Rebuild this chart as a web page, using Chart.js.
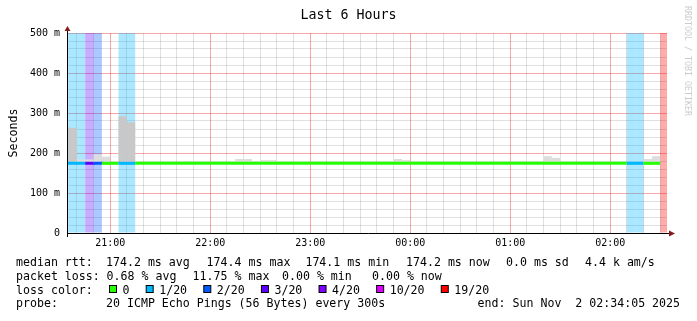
<!DOCTYPE html>
<html>
<head>
<meta charset="utf-8">
<title>Last 6 Hours</title>
<script src="https://cdn.jsdelivr.net/npm/chart.js@4/dist/chart.umd.min.js"></script>
<style>
  html, body { margin: 0; padding: 0; background: #fff; }
  #wrap { width: 697px; height: 321px; position: relative; }
</style>
</head>
<body>
<div id="wrap"><canvas id="smoke"></canvas></div>
<script>
const FONT = "'DejaVu Sans Mono', monospace";

/* --------------- Time window: minutes after 20:30, 5 minute steps --------------- */
const STEP = 5;
const windowStart = 4 + 5 / 60;    // 20:34:05
const windowEnd = 364 + 5 / 60;    // 02:34:05

/* --------------- Median rtt per step (ms), one row per hour --------------- */
const medianRtt = [
  174.2, 174.3, 174.2, 174.2, 174.3, 174.2, 174.2, 174.2, 174.2, 174.2, 174.2, 174.2,
  174.2, 174.2, 174.2, 174.2, 174.2, 174.2, 174.1, 174.2, 174.2, 174.2, 174.2, 174.2,
  174.2, 174.2, 174.2, 174.2, 174.2, 174.2, 174.2, 174.2, 174.2, 174.2, 174.2, 174.2,
  174.2, 174.2, 174.2, 174.2, 174.2, 174.2, 174.2, 174.2, 174.2, 174.2, 174.2, 174.2,
  174.2, 174.2, 174.2, 174.2, 174.2, 174.2, 174.2, 174.2, 174.2, 174.2, 174.4, 174.2,
  174.2, 174.2, 174.2, 174.2, 174.2, 174.2, 174.2, 174.2, 174.2, 174.2, 174.2, 174.2,
  null
];

/* --------------- Slowest ping per step (top of the smoke) --------------- */
const maxRtt = [
  263, 263, 184, 184, 197, 191, 176, 292, 277, 176, 176, 176,
  176, 176, 176, 180, 180, 176, 176, 176, 176, 185, 185, 176,
  182, 182, 176, 178, 178, 176, 176, 176, 176, 176, 176, 176,
  176, 176, 176, 176, 185, 182, 176, 176, 180, 176, 176, 176,
  176, 176, 176, 176, 176, 176, 179, 179, 176, 176, 192, 188,
  176, 176, 176, 176, 176, 176, 176, 176, 176, 176, 185, 192,
  null
];

/* --------------- Lost pings per step (of 20) --------------- */
const lossCount = [
  1, 1, 1, 3, 2, 0, 0, 1, 1, 0, 0, 0,
  0, 0, 0, 0, 0, 0, 0, 0, 0, 0, 0, 0,
  0, 0, 0, 0, 0, 0, 0, 0, 0, 0, 0, 0,
  0, 0, 0, 0, 0, 0, 0, 0, 0, 0, 0, 0,
  0, 0, 0, 0, 0, 0, 0, 0, 0, 0, 0, 0,
  0, 0, 0, 0, 0, 0, 0, 0, 1, 1, 0, 0,
  19
];

/* --------------- Loss colour legend --------------- */
const lossLevels = [0, 1, 2, 3, 4, 10, 19];
const lossLabels = ['0', '1/20', '2/20', '3/20', '4/20', '10/20', '19/20'];
const lossColors = ['#26ff00', '#00b8ff', '#0059ff', '#5e00ff', '#7e00ff', '#dd00ff', '#ff0000'];

/* --------------- Axis ticks --------------- */
const hourTicks = [30, 90, 150, 210, 270, 330];
const hourLabels = ['21:00', '22:00', '23:00', '00:00', '01:00', '02:00'];
const yLabelValues = [0, 100, 200, 300, 400, 500];
const yLabels = ['0', '100 m', '200 m', '300 m', '400 m', '500 m'];

const lossColor = (n, alpha) => {
  let c = lossColors[0];
  lossLevels.forEach((lv, i) => { if (n >= lv) c = lossColors[i]; });
  if (alpha === undefined) return c;
  const r = parseInt(c.slice(1, 3), 16), g = parseInt(c.slice(3, 5), 16), b = parseInt(c.slice(5, 7), 16);
  return `rgba(${r},${g},${b},${alpha})`;
};

const stepX = k => k * STEP + STEP / 2;

// loss background: full height bars where pings went missing
const lossData = lossCount.map((n, k) => ({ x: stepX(k), y: n > 0 ? [0, 500] : null }));
// smoke: median up to the slowest ping
const smokeData = maxRtt.map((m, k) => ({ x: stepX(k), y: m === null ? null : [medianRtt[k], m] }));
// median line, one point at the start of each step (+ closing point)
const lineData = [];
medianRtt.forEach((m, k) => {
  lineData.push({ x: k * STEP, y: m, loss: lossCount[k] });
  if (m !== null && (k === medianRtt.length - 1 || medianRtt[k + 1] === null)) {
    lineData.push({ x: (k + 1) * STEP, y: m, loss: lossCount[k] });
  }
});

const GRID = 'rgba(0,0,0,0.12)';
const MGRID = 'rgba(230,0,0,0.34)';
const tickVal = c => (c && c.tick) ? c.tick.value : NaN;

const footerRows = [
  { y: 266, parts: [['median rtt:', 16], ['174.2 ms avg', 106], ['174.4 ms max', 206.6], ['174.1 ms min', 305.4], ['174.2 ms now', 406], ['0.0 ms sd', 506], ['4.4 k am/s', 585]] },
  { y: 280, parts: [['packet loss:', 16], ['0.68 % avg', 106.6], ['11.75 % max', 192.6], ['0.00 % min', 282], ['0.00 % now', 372]] },
  { y: 293.5, parts: [['loss color:', 16]] },
  { y: 307, parts: [['probe:', 16], ['20 ICMP Echo Pings (56 Bytes) every 300s', 106], ['end: Sun Nov  2 02:34:05 2025', 477.6]] }
];

const decorations = {
  id: 'decorations',
  afterDatasetsDraw(chart) {
    const { ctx, chartArea: a } = chart;
    ctx.save();
    // axes
    ctx.strokeStyle = '#000';
    ctx.lineWidth = 1;
    ctx.beginPath();
    ctx.moveTo(a.left + 0.5, a.bottom + 4);
    ctx.lineTo(a.left + 0.5, a.top - 3);
    ctx.moveTo(a.left, a.bottom + 0.5);
    ctx.lineTo(a.right + 3, a.bottom + 0.5);
    ctx.stroke();
    ctx.fillStyle = '#8a1a1a';
    ctx.beginPath();
    ctx.moveTo(a.left + 0.5, a.top - 7);
    ctx.lineTo(a.left - 2.5, a.top - 2);
    ctx.lineTo(a.left + 3.5, a.top - 2);
    ctx.closePath();
    ctx.fill();
    ctx.beginPath();
    ctx.moveTo(a.right + 8, a.bottom + 0.5);
    ctx.lineTo(a.right + 2, a.bottom - 2.5);
    ctx.lineTo(a.right + 2, a.bottom + 3.5);
    ctx.closePath();
    ctx.fill();
    ctx.restore();
  },
  afterDraw(chart) {
    const { ctx } = chart;
    ctx.save();
    ctx.fillStyle = '#000';
    ctx.font = '11.6px ' + FONT;
    ctx.textBaseline = 'alphabetic';
    ctx.textAlign = 'left';
    footerRows.forEach(row => row.parts.forEach(([t, x]) => ctx.fillText(t, x, row.y)));
    // loss colour boxes
    let x = 109.5;
    lossLabels.forEach((lab, i) => {
      ctx.fillStyle = lossColors[i];
      ctx.fillRect(x, 285.5, 7, 7);
      ctx.strokeStyle = '#000';
      ctx.strokeRect(x, 285.5, 7, 7);
      ctx.fillStyle = '#000';
      ctx.fillText(lab, x + 13, 293.5);
      x += 13 + ctx.measureText(lab).width + 16.7;
    });
    // watermark
    ctx.translate(684.5, 6);
    ctx.rotate(Math.PI / 2);
    ctx.fillStyle = '#cccccc';
    ctx.font = '8.3px ' + FONT;
    ctx.fillText('RRDTOOL / TOBI OETIKER', 0, 0);
    ctx.restore();
  }
};

new Chart(document.getElementById('smoke'), {
  plugins: [decorations],
  data: {
    datasets: [
      {
        type: 'line',
        data: lineData,
        order: 0,
        stepped: 'before',
        borderWidth: 3,
        borderCapStyle: 'butt',
        pointRadius: 0,
        fill: false,
        clip: 0,
        borderColor: lossColors[0],
        segment: {
          borderColor: c => lossColor(lineData[c.p0DataIndex].loss)
        }
      },
      {
        type: 'bar',
        data: smokeData,
        order: 1,
        grouped: false,
        barPercentage: 1,
        categoryPercentage: 1,
        inflateAmount: 0,
        borderWidth: 0,
        clip: 0,
        backgroundColor: maxRtt.map((m, k) => (m !== null && m - medianRtt[k] > 40) ? '#c8c8c8' : '#dddddd')
      },
      {
        type: 'bar',
        data: lossData,
        order: 2,
        grouped: false,
        barPercentage: 1,
        categoryPercentage: 1,
        inflateAmount: 0,
        borderWidth: 0,
        clip: 0,
        backgroundColor: lossCount.map(n => lossColor(n, 0.33))
      }
    ]
  },
  options: {
    responsive: true,
    maintainAspectRatio: false,
    devicePixelRatio: 1,
    animation: false,
    layout: { padding: 0 },
    plugins: {
      legend: { display: false },
      tooltip: { enabled: false },
      title: {
        display: true,
        text: 'Last 6 Hours',
        color: '#000',
        font: { family: FONT, size: 13.3, weight: 'normal' },
        padding: { top: 8, bottom: 9.04 }
      }
    },
    scales: {
      x: {
        type: 'linear',
        offset: false,
        min: windowStart,
        max: windowEnd,
        afterBuildTicks: s => {
          const t = [];
          for (let v = 10; v <= 360; v += 10) t.push({ value: v });
          s.ticks = t;
        },
        afterFit: s => { s.height = 88; },
        border: { display: false },
        grid: {
          offset: false,
          drawTicks: false,
          color: c => hourTicks.includes(tickVal(c)) ? MGRID : GRID
        },
        ticks: {
          autoSkip: false,
          maxRotation: 0,
          padding: 4,
          color: '#000',
          font: { family: FONT, size: 10 },
          callback: v => {
            const i = hourTicks.indexOf(v);
            return i >= 0 ? hourLabels[i] : '';
          }
        }
      },
      y: {
        min: 0,
        max: 500,
        afterFit: s => { s.width = 67; },
        border: { display: false },
        grid: {
          drawTicks: false,
          color: c => yLabelValues.includes(tickVal(c)) ? MGRID : GRID
        },
        title: {
          display: true,
          text: 'Seconds',
          color: '#000',
          font: { family: FONT, size: 11.6 },
          padding: { top: 7, bottom: 0 }
        },
        ticks: {
          stepSize: 20,
          autoSkip: false,
          padding: 7,
          color: '#000',
          font: { family: FONT, size: 10 },
          callback: v => {
            const i = yLabelValues.indexOf(v);
            return i >= 0 ? yLabels[i] : '';
          }
        }
      },
      // empty strip on the right that holds the watermark
      margin: {
        position: 'right',
        min: 0,
        max: 1,
        afterFit: s => { s.width = 30; },
        border: { display: false },
        grid: { display: false },
        ticks: { display: false }
      }
    }
  }
});
</script>
</body>
</html>
